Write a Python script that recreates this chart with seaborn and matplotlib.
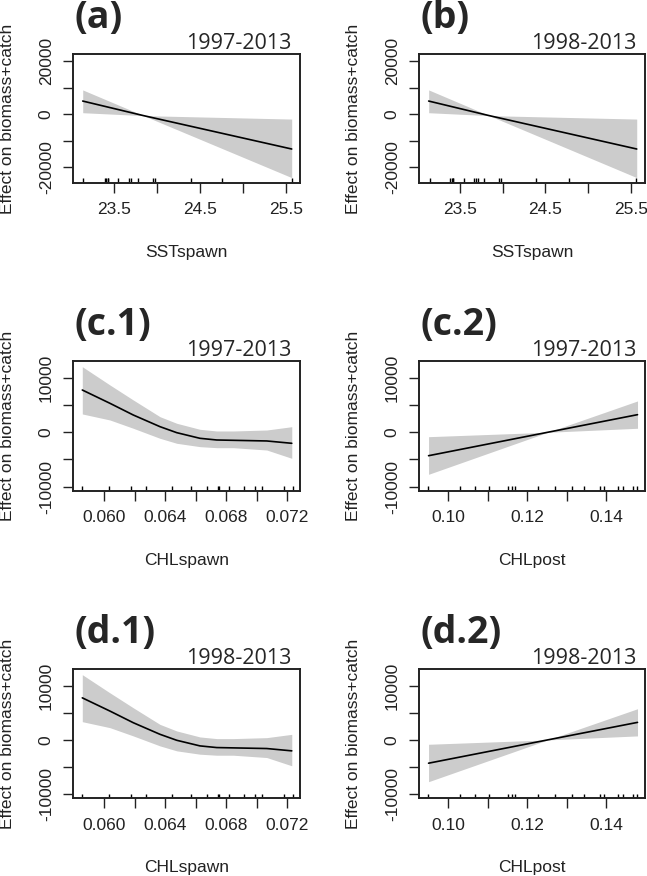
import numpy as np
import pandas as pd
import seaborn as sns
import matplotlib.pyplot as plt

# --- data ---
# SSTspawn smooth (same shape in (a) and (b))
sst_x = [23.13, 23.84, 25.57]
sst_fit = [5000, -500, -13100]
sst_upper = [9200, -500, -1800]
sst_lower = [600, -500, -23900]
sst_rug_a = [23.13, 23.39, 23.40, 23.42, 23.43, 23.54, 23.67, 23.69, 23.77,
             23.95, 23.97, 24.39, 24.76, 25.57]
sst_rug_b = [23.14, 23.38, 23.40, 23.41, 23.42, 23.54, 23.66, 23.69, 23.71,
             23.78, 23.95, 23.98, 24.39, 24.77, 25.56]

# CHLspawn smooth
chls_x = [0.05856, 0.06037, 0.06190, 0.06365, 0.06475, 0.06627, 0.06737,
          0.06846, 0.07065, 0.07229]
chls_fit = [7800, 5350, 3190, 1040, -70, -1110, -1420, -1480, -1600, -2030]
chls_upper = [12100, 8730, 5960, 2880, 1660, 550, 240, 240, 420, 1030]
chls_lower = [3380, 2270, 740, -1110, -2030, -2650, -2840, -2840, -3270, -4800]
chls_rug = [0.05855, 0.06031, 0.06175, 0.06273, 0.06444, 0.06567, 0.06672,
            0.06744, 0.06753, 0.06817, 0.06915, 0.06985, 0.07037, 0.07175,
            0.07237]

# CHLpost smooth
chlp_x = [0.0950, 0.1252, 0.1480]
chlp_fit = [-4320, 0, 3250]
chlp_upper = [-810, 0, 5780]
chlp_lower = [-7750, 0, 740]
chlp_rug = [0.09492, 0.10297, 0.10678, 0.11033, 0.11523, 0.11609, 0.11693,
            0.12269, 0.12708, 0.13132, 0.13452, 0.13850, 0.13959, 0.14299,
            0.14441, 0.14695, 0.14781]

sns.set_style("ticks")
plt.rcParams['font.family'] = ['Liberation Sans', 'DejaVu Sans']

W, H = 647, 876
fig = plt.figure(figsize=(W / 100, H / 100), dpi=100)

# panel boxes in pixels: left, top, right, bottom
cols = [(73.3, 300.0), (419.3, 645.0)]
rows = [(54, 183), (361, 491), (669, 798.3)]

panels = [
    dict(tag='(a)', period='1997-2013', x=sst_x, fit=sst_fit, up=sst_upper, lo=sst_lower,
         rug=sst_rug_a, xlab='SSTspawn', xlim=(23.02, 25.667), ylim=(-25930, 22760),
         xt=[23.5, 24.0, 24.5, 25.0, 25.5], xtl=['23.5', '', '24.5', '', '25.5'],
         yt=[-20000, -10000, 0, 10000, 20000], ytl=['-20000', '', '0', '', '20000']),
    dict(tag='(b)', period='1998-2013', x=sst_x, fit=sst_fit, up=sst_upper, lo=sst_lower,
         rug=sst_rug_b, xlab='SSTspawn', xlim=(23.02, 25.667), ylim=(-25930, 22760),
         xt=[23.5, 24.0, 24.5, 25.0, 25.5], xtl=['23.5', '', '24.5', '', '25.5'],
         yt=[-20000, -10000, 0, 10000, 20000], ytl=['-20000', '', '0', '', '20000']),
]
chls_opts = dict(x=chls_x, fit=chls_fit, up=chls_upper, lo=chls_lower, rug=chls_rug,
                 xlab='CHLspawn', xlim=(0.05797, 0.07283), ylim=(-10830, 13150),
                 xt=[0.060, 0.062, 0.064, 0.066, 0.068, 0.070, 0.072],
                 xtl=['0.060', '', '0.064', '', '0.068', '', '0.072'],
                 yt=[-10000, -5000, 0, 5000, 10000], ytl=['-10000', '', '0', '', '10000'])
chlp_opts = dict(x=chlp_x, fit=chlp_fit, up=chlp_upper, lo=chlp_lower, rug=chlp_rug,
                 xlab='CHLpost', xlim=(0.09265, 0.1499), ylim=(-10830, 13150),
                 xt=[0.10, 0.11, 0.12, 0.13, 0.14], xtl=['0.10', '', '0.12', '', '0.14'],
                 yt=[-10000, -5000, 0, 5000, 10000], ytl=['-10000', '', '0', '', '10000'])
panels += [dict(tag='(c.1)', period='1997-2013', **chls_opts),
           dict(tag='(c.2)', period='1997-2013', **chlp_opts),
           dict(tag='(d.1)', period='1998-2013', **chls_opts),
           dict(tag='(d.2)', period='1998-2013', **chlp_opts)]

for i, p in enumerate(panels):
    x0, x1 = cols[i % 2]
    top, bot = rows[i // 2]
    ax = fig.add_axes([x0 / W, 1 - bot / H, (x1 - x0) / W, (bot - top) / H])

    df = pd.DataFrame({'x': p['x'], 'fit': p['fit'], 'up': p['up'], 'lo': p['lo']})
    ax.fill_between(df['x'], df['lo'], df['up'], color='#cccccc', lw=0)
    sns.lineplot(data=df, x='x', y='fit', ax=ax, color='black', lw=1.2)
    sns.rugplot(x=p['rug'], ax=ax, height=0.035, color='black', lw=0.7)

    ax.set_xlim(p['xlim'])
    ax.set_ylim(p['ylim'])
    ax.set_xticks(p['xt'])
    ax.set_xticklabels(p['xtl'])
    ax.set_yticks(p['yt'])
    ax.set_yticklabels(p['ytl'], rotation=90, va='center')
    ax.tick_params(axis='both', direction='out', length=7, width=1.0,
                   labelsize=12.5, color='#222222', labelcolor='#222222')
    ax.tick_params(axis='x', pad=7)
    ax.tick_params(axis='y', pad=7)
    for s in ax.spines.values():
        s.set_linewidth(1.4)
        s.set_color('#222222')

    ax.set_xlabel(p['xlab'], fontsize=12.5, color='#222222')
    ax.xaxis.set_label_coords(0.5, -0.48)
    ax.set_ylabel('Effect on biomass+catch', fontsize=12.5, color='#222222')
    ax.yaxis.set_label_coords(-0.257, 0.5)

    fig.text((x0 + 1) / W, 1 - (top - 26) / H, p['tag'], fontsize=27,
             fontweight='bold', family=['Open Sans', 'DejaVu Sans'],
             ha='left', va='baseline')
    fig.text((x1 - 9) / W, 1 - (top - 5) / H, p['period'], fontsize=15.5,
             family=['Open Sans', 'DejaVu Sans'], ha='right', va='baseline')

fig.savefig('out.png', dpi=100)
